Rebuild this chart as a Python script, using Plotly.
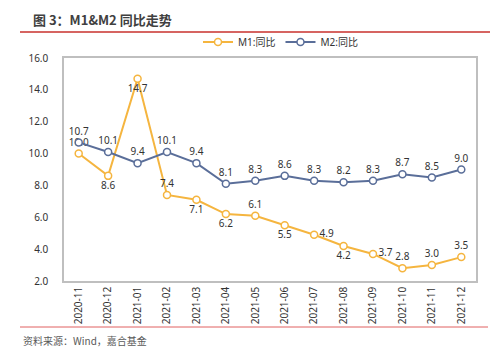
import plotly.graph_objects as go

months = ["2020-11", "2020-12", "2021-01", "2021-02", "2021-03", "2021-04", "2021-05",
          "2021-06", "2021-07", "2021-08", "2021-09", "2021-10", "2021-11", "2021-12"]
m1 = [10.0, 8.6, 14.7, 7.4, 7.1, 6.2, 6.1, 5.5, 4.9, 4.2, 3.7, 2.8, 3.0, 3.5]
m2 = [10.7, 10.1, 9.4, 10.1, 9.4, 8.1, 8.3, 8.6, 8.3, 8.2, 8.3, 8.7, 8.5, 9.0]
m1_pos = ["top center", "bottom center", "bottom center", "top center", "bottom center",
          "bottom center", "top center", "bottom center", "middle right", "bottom center",
          "middle right", "top center", "top center", "top center"]
m2_pos = ["top center"] * len(m2)

W, H = 500, 351
L, R, T, B = 64, 24, 58, 70
PW, PH = W - L - R, H - T - B


def px(x):
    return (x - L) / PW


def py(y):
    return (H - B - y) / PH


M1C = "#F5B53F"
M2C = "#5A6E99"
TXT = "#333333"

fig = go.Figure()
fig.add_trace(go.Scatter(
    x=months, y=m1, name="M1:同比", mode="lines+markers+text",
    line=dict(color=M1C, width=2),
    marker=dict(symbol="circle", size=7, color="white", line=dict(color=M1C, width=1.5)),
    text=[f"{v:.1f}" for v in m1], textposition=m1_pos,
    textfont=dict(family="Noto Sans", size=10, color=TXT), cliponaxis=False,
))
fig.add_trace(go.Scatter(
    x=months, y=m2, name="M2:同比", mode="lines+markers+text",
    line=dict(color=M2C, width=2),
    marker=dict(symbol="circle", size=7, color="white", line=dict(color=M2C, width=1.5)),
    text=[f"{v:.1f}" for v in m2], textposition=m2_pos,
    textfont=dict(family="Noto Sans", size=10, color=TXT), cliponaxis=False,
))

fig.update_layout(
    width=W, height=H,
    margin=dict(l=L, r=R, t=T, b=B, pad=0),
    paper_bgcolor="white", plot_bgcolor="white",
    font=dict(family="Noto Sans, Noto Sans CJK SC", size=10, color=TXT),
    showlegend=True,
    legend=dict(orientation="h", x=px(198), y=py(42), xanchor="left", yanchor="middle",
                font=dict(family="Noto Sans, Noto Sans CJK SC", size=10, color=TXT),
                itemwidth=30, tracegroupgap=0, bgcolor="rgba(0,0,0,0)"),
    xaxis=dict(type="category", range=[-0.5, 13.5], tickangle=-90, showgrid=False,
               showline=True, linecolor="#BFBFBF", linewidth=1.5, mirror=True,
               ticks="", tickfont=dict(size=10, color=TXT)),
    yaxis=dict(range=[2, 16], dtick=2, tickformat=".1f", showgrid=False,
               showline=True, linecolor="#BFBFBF", linewidth=1.5, mirror=True,
               ticks="", tickfont=dict(size=10, color=TXT), ticklabelstandoff=12),
)

fig.add_shape(type="line", xref="paper", yref="paper", x0=px(20), x1=px(490),
              y0=py(32), y1=py(32), line=dict(color="#C9302C", width=1.5))
fig.add_shape(type="line", xref="paper", yref="paper", x0=px(20), x1=px(488),
              y0=py(327), y1=py(327), line=dict(color="#E06060", width=1))
fig.add_annotation(xref="paper", yref="paper", x=px(31), y=py(20), xanchor="left",
                   yanchor="middle", showarrow=False,
                   text="<b>图 3：M1&M2 同比走势</b>",
                   font=dict(family="Noto Sans CJK SC", size=13, color="#404040"))
fig.add_annotation(xref="paper", yref="paper", x=px(21), y=py(340), xanchor="left",
                   yanchor="middle", showarrow=False,
                   text="资料来源：Wind，嘉合基金",
                   font=dict(family="Noto Sans CJK SC", size=10, color="#595959"))

fig.write_html("out.html")
